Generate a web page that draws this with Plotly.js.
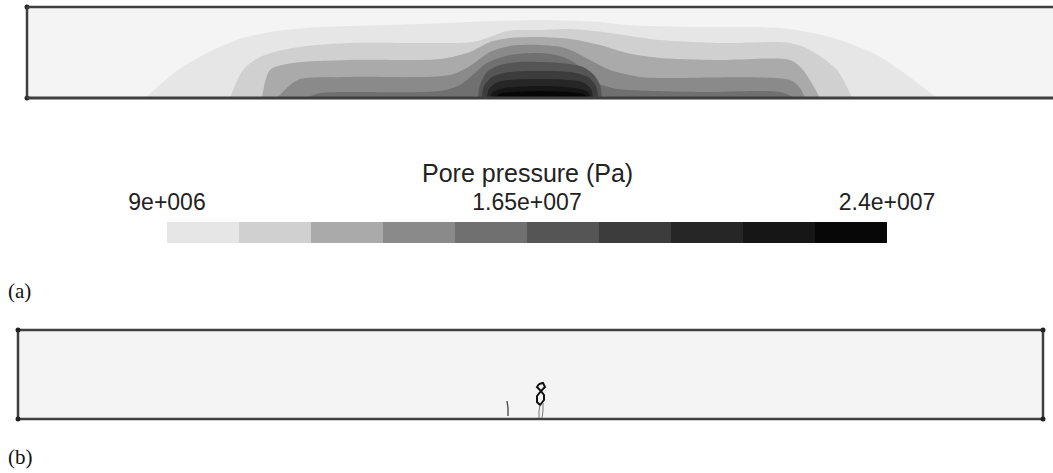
<!DOCTYPE html>
<html>
<head>
<meta charset="utf-8">
<script src="https://cdn.plot.ly/plotly-3.0.1.min.js"></script>
<style>html,body{margin:0;padding:0;background:#fff;}#chart{width:1053px;height:473px;}</style>
</head>
<body>
<div id="chart"></div>
<script>
// ---- Data ----
// Pore pressure contour levels (Pa): 10 bands between 9e6 and 2.4e7
const levelEdges = [9e6, 1.05e7, 1.2e7, 1.35e7, 1.5e7, 1.65e7, 1.8e7, 1.95e7, 2.1e7, 2.25e7, 2.4e7];
const tickValues = [9e6, 1.65e7, 2.4e7];
const tickLabels = ["9e+006", "1.65e+007", "2.4e+007"];

// Panel (a): outer boundary of each pressure band (x along the section, y height above base)
const band1X = [118,151,180,210,243,293,323,393,443,513,573,600,666,753,803,846,873,910];
const band1Y = [0,28,45,58,66,71,72,74,76,78,76,73,71,70,61,45,28,0];
const band2X = [203,216,233,256,280,323,393,446,463,480,513,543,576,603,633,693,763,783,810,825];
const band2Y = [0,28,41,48,52,55,55,56,61,67,68,69,66,62,58,55,55,48,28,0];
const band3X = [235,243,266,323,413,443,463,483,513,543,573,600,633,693,763,776,793];
const band3Y = [0,28,35,38,39,46,56,60,61,59,53,45,40,38,38,28,0];
const band4X = [250,263,273,323,423,443,463,483,513,538,563,583,613,633,763,773,778];
const band4Y = [0,13,19,21,23,32,46,52,53,50,38,28,21,20,18,10,0];
const band5X = [278,293,323,413,433,448,460,483,513,533,548,561,570,585,603,673,753,768];
const band5Y = [0,5,6,7,13,25,35,43,45,42,35,23,15,10,8,6,6,0];
const band6X = [451,453,460,473,493,513,533,556,567,573,575];
const band6Y = [0,13,26,33,36,36,35,31,23,13,0];
const band7X = [455,457,465,483,513,543,561,569,571];
const band7Y = [0,12,21,26,27,26,21,12,0];
const band8X = [460,462,471,513,555,564,566];
const band8Y = [0,9,16,19,16,9,0];
const band9X = [463,466,478,513,548,561,564];
const band9Y = [0,6,10,12,10,6,0];
const band10X = [468,472,488,513,541,557,561];
const band10Y = [0,4,6,7,6,4,0];

// Panel (b): fracture traces
const crackLoopX = [521,525,527,523,526,526,522,519,519,523,519,521];
const crackLoopY = [35,36,32,28,24,19,14,17,23,28,32,35];
const crackTailAX = [522,521,521];
const crackTailAY = [14,8,1];
const crackTailBX = [525,525,524];
const crackTailBY = [16,8,1];
const crackSmallX = [489,490,490];
const crackSmallY = [18,11,3];

// Model extents
const panelAWidth = 1026, panelAHeight = 91;
const panelBWidth = 1025, panelBHeight = 89;

// ---- Styles ----
const bandColors = ['#e6e6e6','#d0d0d0','#aaaaaa','#8a8a8a','#707070','#555555','#3c3c3c','#262626','#161616','#070707'];
const bgGrey = '#f4f4f4';
const edgeColor = '#3f3f3f';

const bandsX = [band1X,band2X,band3X,band4X,band5X,band6X,band7X,band8X,band9X,band10X];
const bandsY = [band1Y,band2Y,band3Y,band4Y,band5Y,band6Y,band7Y,band8Y,band9Y,band10Y];

const traces = [];
bandsX.forEach((bx, i) => {
  traces.push({
    type: 'scatter', mode: 'lines', x: bx, y: bandsY[i],
    fill: 'toself', fillcolor: bandColors[i],
    line: {width: 0, shape: 'spline', smoothing: 0.8, color: bandColors[i]},
    hoverinfo: 'skip', showlegend: false, xaxis: 'x', yaxis: 'y'
  });
});

// corner nodes panel a
traces.push({type:'scatter', mode:'markers', x:[0,0], y:[0,panelAHeight],
  marker:{size:5, color:'#222'}, showlegend:false, xaxis:'x', yaxis:'y', cliponaxis:false});

// cracks panel b
[[crackLoopX,crackLoopY,2,'#111'],[crackTailAX,crackTailAY,1,'#777'],[crackTailBX,crackTailBY,1,'#777'],[crackSmallX,crackSmallY,1.3,'#444']].forEach(c => {
  traces.push({type:'scatter', mode:'lines', x:c[0], y:c[1], line:{width:c[2], color:c[3]},
    showlegend:false, xaxis:'x2', yaxis:'y2', hoverinfo:'skip'});
});
traces.push({type:'scatter', mode:'markers', x:[0,panelBWidth,0,panelBWidth], y:[0,0,panelBHeight,panelBHeight],
  marker:{size:5, color:'#222'}, showlegend:false, xaxis:'x2', yaxis:'y2', cliponaxis:false});

// colour bar
const bandIndex = levelEdges.slice(1).map((v, i) => i);
traces.push({
  type:'heatmap', x: levelEdges, y:[0,1], z:[bandIndex],
  colorscale: bandColors.map((c, i) => [i/(bandColors.length-1), c]),
  zmin:0, zmax:bandColors.length-1, showscale:false, xaxis:'x3', yaxis:'y3', hoverinfo:'skip'
});

const H = 473, W = 1053;
const hidden = {visible:false, fixedrange:true};
const layout = {
  width: W, height: H,
  margin: {l:0, r:0, t:0, b:0},
  paper_bgcolor: '#ffffff', plot_bgcolor: 'rgba(0,0,0,0)',
  showlegend: false,
  font: {family: '"Liberation Sans", Arial, sans-serif', color: '#222'},
  xaxis: Object.assign({range:[-5, panelAWidth], domain:[22/W, 1]}, hidden),
  yaxis: Object.assign({range:[-3, panelAHeight+3], domain:[(H-101)/H, (H-4)/H]}, hidden),
  xaxis2: Object.assign({range:[-5, panelBWidth+5], domain:[13/W, 1048/W]}, hidden),
  yaxis2: Object.assign({range:[-3, panelBHeight+3], domain:[(H-422)/H, (H-327)/H]}, hidden),
  xaxis3: {range:[levelEdges[0], levelEdges[levelEdges.length-1]], domain:[167/W, 887/W], anchor:'y3',
    side:'top', tickmode:'array', tickvals: tickValues, ticktext: tickLabels, ticks:'', showgrid:false,
    zeroline:false, showline:false, tickfont:{size:23, color:'#222'}, ticklabelstandoff: 6, fixedrange:true},
  yaxis3: {range:[0,1], domain:[(H-243)/H, (H-222)/H], visible:false, anchor:'x3', fixedrange:true},
  shapes: [
    {type:'rect', xref:'x', yref:'y', x0:0, x1:panelAWidth, y0:0, y1:panelAHeight, fillcolor:bgGrey, line:{width:0}, layer:'below'},
    {type:'line', xref:'x', yref:'y', x0:0, x1:panelAWidth, y0:0, y1:0, line:{color:edgeColor, width:3}},
    {type:'line', xref:'x', yref:'y', x0:0, x1:panelAWidth, y0:panelAHeight, y1:panelAHeight, line:{color:edgeColor, width:2.5}},
    {type:'line', xref:'x', yref:'y', x0:0, x1:0, y0:0, y1:panelAHeight, line:{color:edgeColor, width:2.5}},
    {type:'rect', xref:'x2', yref:'y2', x0:0, x1:panelBWidth, y0:0, y1:panelBHeight, fillcolor:bgGrey, line:{color:edgeColor, width:2.5}, layer:'below'}
  ],
  annotations: [
    {text:'Pore pressure (Pa)', xref:'x3 domain', x:0.5, yref:'paper', y:(H-173)/H, xanchor:'center', yanchor:'middle',
      showarrow:false, font:{size:25, color:'#222'}},
    {text:'(a)', xref:'paper', x:6/W, yref:'paper', y:(H-291)/H, xanchor:'left', yanchor:'middle', showarrow:false,
      font:{family:'"Liberation Serif", "Times New Roman", serif', size:21, color:'#111'}},
    {text:'(b)', xref:'paper', x:6/W, yref:'paper', y:(H-457)/H, xanchor:'left', yanchor:'middle', showarrow:false,
      font:{family:'"Liberation Serif", "Times New Roman", serif', size:21, color:'#111'}}
  ]
};

Plotly.newPlot('chart', traces, layout, {staticPlot:true, displayModeBar:false});
</script>
</body>
</html>
